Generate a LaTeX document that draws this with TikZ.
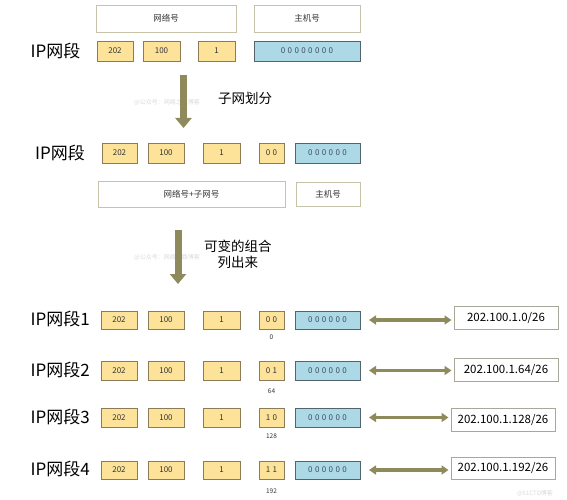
\documentclass[tikz,border=0pt]{standalone}
\usepackage{fontspec}
\setmainfont{Noto Sans CJK SC}
\usetikzlibrary{arrows.meta}
\definecolor{yfill}{HTML}{FDE39A}
\definecolor{ydraw}{HTML}{8C7B55}
\definecolor{bfill}{HTML}{ADD8E6}
\definecolor{bdraw}{HTML}{52656F}
\definecolor{ldraw}{HTML}{C6C3A8}
\definecolor{rdraw}{HTML}{A8A89A}
\definecolor{olive}{HTML}{8E8A5C}
\definecolor{txt}{HTML}{333333}
\definecolor{btxt}{HTML}{3B4E5C}
\newcommand\boxat[7]{\node[#1,minimum width={(#5-#4)*1pt},minimum height={(#7-#6)*1pt}] (#2) at ({(#4+#5)/2},{(#6+#7)/2}) {#3};}
\tikzset{
  base/.style={rectangle,inner sep=0pt,outer sep=0pt},
  ybox/.style={base,draw=ydraw,fill=yfill,line width=0.7pt,text=txt,font=\fontsize{8}{9}\selectfont},
  bbox/.style={base,draw=bdraw,fill=bfill,line width=0.7pt,text=btxt,font=\fontsize{8}{9}\selectfont\addfontfeature{LetterSpace=30}},
  sbox/.style={ybox,font=\fontsize{8}{9}\selectfont\addfontfeature{LetterSpace=30}},
  lbox/.style={base,draw=ldraw,fill=white,line width=0.9pt,text=txt,font=\fontsize{8.5}{9}\selectfont},
  rbox/.style={base,draw=rdraw,fill=white,line width=0.8pt,text=black,font=\fontsize{11.5}{12}\selectfont},
  iplab/.style={anchor=west,inner sep=0pt,font=\fontsize{17}{18}\selectfont},
  note/.style={inner sep=0pt,font=\fontsize{13.5}{16}\selectfont,align=center},
  small/.style={inner sep=0pt,text=txt,font=\fontsize{6.5}{7}\selectfont},
  wm/.style={inner sep=0pt,text=gray!30,font=\fontsize{6}{7}\selectfont},
  bigarrow/.style={draw=olive,line width=7pt,-{Triangle[width=16pt,length=10pt]}},
  dblarrow/.style={draw=olive,line width=3.5pt,{Triangle[width=9pt,length=7pt]}-{Triangle[width=9pt,length=7pt]},shorten <=9pt,shorten >=2.5pt}
}
\begin{document}
\begin{tikzpicture}[x=1pt,y=-1pt]
\useasboundingbox (0,0) rectangle (567,500);
% row 0 labels
\boxat{lbox}{n0}{网络号}{96}{236}{5}{32}
\boxat{lbox}{h0}{主机号}{254}{360}{5}{32}
% row 1
\node[iplab] (ip0) at (30.5,51) {IP网段};
\boxat{ybox}{a1}{202}{97}{133}{41}{61}
\boxat{ybox}{b1}{100}{143}{180}{41}{61}
\boxat{ybox}{c1}{1}{198}{235}{41}{61}
\boxat{bbox}{h1}{00000000}{254}{360}{41}{61}
% arrow 1
\node[wm] (wm1) at (167,102) {@公众号：网络之路博客};
\coordinate (s1) at (183.5,75);
\coordinate (e1) at (183.5,128);
\draw[bigarrow] (s1) -- (e1);
\node[note,anchor=west] (t1) at (218,98.5) {子网划分};
% row 2
\node[iplab] (ip2) at (35,153) {IP网段};
\boxat{ybox}{a2}{202}{102}{137}{143}{163}
\boxat{ybox}{b2}{100}{148}{184}{143}{163}
\boxat{ybox}{c2}{1}{203}{240}{143}{163}
\boxat{sbox}{d2}{00}{259}{284}{143}{163}
\boxat{bbox}{h2}{000000}{295}{360}{143}{163}
\boxat{lbox}{n2}{网络号+子网号}{98}{285}{181}{207}
\boxat{lbox}{hh2}{主机号}{296}{360}{182}{206}
% arrow 2
\node[wm] (wm2) at (167,257) {@公众号：网络之路博客};
\coordinate (s2) at (178,230);
\coordinate (e2) at (178,284);
\draw[bigarrow] (s2) -- (e2);
\node[note,anchor=west] (t2) at (204,254.5) {可变的组合\\列出来};
% rows 3-6
\foreach \i/\ya/\yb/\bits/\num/\ny/\rx/\ry/\rz/\rt in {
  1/311/329/00/0/337/454/306/329/202.100.1.0\slash26,
  2/361/380/01/64/391/454/358/381/202.100.1.64\slash26,
  3/408/427/10/128/436.5/451/408/431/202.100.1.128\slash26,
  4/461/479/11/192/491/451/457/479/202.100.1.192\slash26}{
  \node[iplab] (ipr\i) at (30.5,{(\ya+\yb)/2-0.5}) {IP网段\i};
  \boxat{ybox}{ra\i}{202}{101}{137}{\ya}{\yb}
  \boxat{ybox}{rb\i}{100}{148}{184}{\ya}{\yb}
  \boxat{ybox}{rc\i}{1}{203}{240}{\ya}{\yb}
  \boxat{sbox}{rd\i}{\bits}{259}{284}{\ya}{\yb}
  \boxat{bbox}{rh\i}{000000}{295}{360}{\ya}{\yb}
  \node[small] (rn\i) at (271.5,\ny) {\num};
  \pgfmathsetmacro\rr{\rx+104}
  \boxat{rbox}{res\i}{\rt}{\rx}{\rr}{\ry}{\rz}
  \draw[dblarrow] (rh\i.east) -- (rh\i.east -| res\i.west);
}
\node[wm] (wm3) at (535,493) {@51CTO博客};
\end{tikzpicture}
\end{document}
